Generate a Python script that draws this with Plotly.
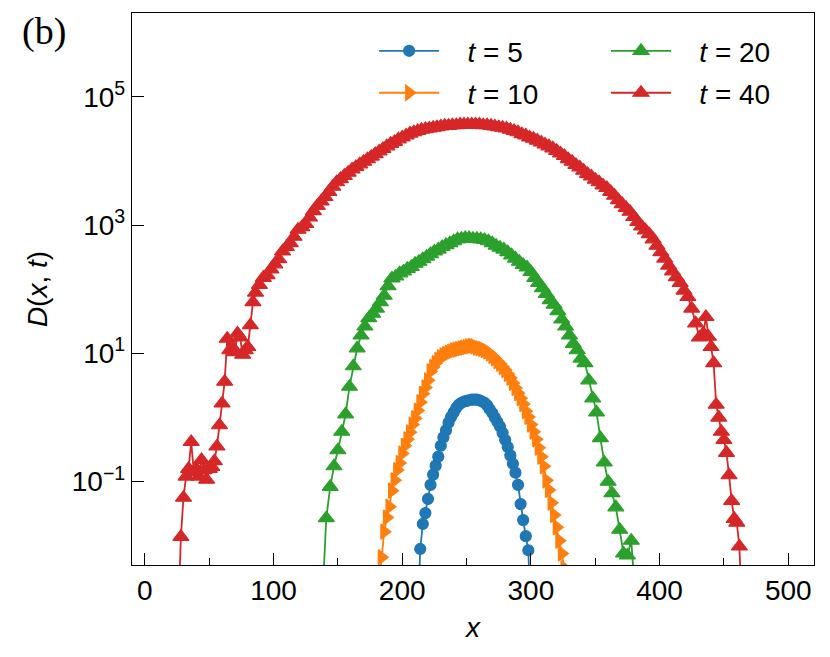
import numpy as np
import plotly.graph_objects as go

# D(x, t) profiles, stored as log10 values
x_t5 = list(range(212, 301, 2))
logd_t5 = [-3.2, -2.05, -1.66, -1.49, -1.27, -1.05, -0.89, -0.75, -0.61, -0.44,
           -0.31, -0.20, -0.08, 0.01, 0.08, 0.15, 0.20, 0.23, 0.25, 0.26,
           0.27, 0.28, 0.28, 0.28, 0.27, 0.25, 0.23, 0.19, 0.13, 0.07,
           0.00, -0.07, -0.14, -0.24, -0.35, -0.46, -0.59, -0.72, -0.86, -1.05,
           -1.35, -1.60, -1.85, -2.07, -3.2]

x_t10 = list(range(182, 327, 2))
logd_t10 = [-2.6, -2.18, -1.78, -1.56, -1.39, -1.14, -0.98, -0.82, -0.71, -0.56,
            -0.44, -0.34, -0.23, -0.11, -0.01, 0.11, 0.24, 0.37, 0.47, 0.58,
            0.72, 0.79, 0.85, 0.90, 0.94, 0.97, 0.99, 1.01, 1.03, 1.05,
            1.06, 1.07, 1.08, 1.09, 1.10, 1.11, 1.12, 1.11, 1.09, 1.08,
            1.07, 1.05, 1.03, 1.00, 0.96, 0.92, 0.88, 0.84, 0.79, 0.74,
            0.68, 0.62, 0.54, 0.46, 0.38, 0.30, 0.21, 0.10, 0.01, -0.11,
            -0.22, -0.34, -0.47, -0.61, -0.76, -0.98, -1.13, -1.33, -1.52, -1.71,
            -1.92, -2.12, -2.35]

x_t20 = list(range(138, 382, 3))
logd_t20 = [-2.8, -1.57, -1.08, -0.76, -0.51, -0.22, 0.05, 0.48, 0.80, 1.08,
            1.28, 1.42, 1.55, 1.62, 1.70, 1.80, 1.90, 2.05, 2.17, 2.20,
            2.25, 2.28, 2.32, 2.35, 2.40, 2.43, 2.47, 2.51, 2.55, 2.59,
            2.62, 2.66, 2.69, 2.72, 2.75, 2.78, 2.79, 2.80, 2.80, 2.79,
            2.79, 2.78, 2.77, 2.75, 2.72, 2.68, 2.65, 2.62, 2.58, 2.53,
            2.48, 2.43, 2.38, 2.34, 2.27, 2.18, 2.10, 2.02, 1.93, 1.83,
            1.76, 1.66, 1.53, 1.42, 1.28, 1.15, 1.05, 0.92, 0.85, 0.58,
            0.30, 0.08, -0.32, -0.70, -1.00, -1.18, -1.40, -1.75, -2.12, -2.15,
            -1.92, -2.8]

x_t40 = list(range(26, 87, 2)) + list(range(89, 435, 3)) + list(range(436, 465, 2))
logd_t40 = [
    # left tail
    -3.0, -1.86, -1.25, -0.92, -0.80, -0.38, -0.85, -0.80, -0.92, -0.66,
    -0.82, -0.97, -0.80, -0.77, -0.68, -0.45, -0.12, 0.22, 0.56, 1.23,
    1.05, 1.10, 1.02, 1.31, 1.25, 0.98, 1.05, 1.10, 1.44, 1.80, 1.95,
    # bulk
    2.07, 2.18, 2.22, 2.31, 2.39, 2.47, 2.59, 2.66, 2.72, 2.82,
    2.93, 2.97, 3.02, 3.12, 3.22, 3.30, 3.37, 3.44, 3.52, 3.60,
    3.67, 3.72, 3.77, 3.82, 3.87, 3.91, 3.95, 3.99, 4.03, 4.07,
    4.11, 4.15, 4.19, 4.23, 4.27, 4.30, 4.34, 4.37, 4.40, 4.43,
    4.45, 4.47, 4.49, 4.50, 4.51, 4.52, 4.53, 4.54, 4.55, 4.55,
    4.56, 4.56, 4.57, 4.57, 4.57, 4.57, 4.57, 4.57, 4.56, 4.56,
    4.55, 4.54, 4.53, 4.52, 4.51, 4.49, 4.47, 4.45, 4.42, 4.40,
    4.37, 4.35, 4.32, 4.29, 4.26, 4.23, 4.20, 4.16, 4.12, 4.08,
    4.03, 3.99, 3.94, 3.90, 3.85, 3.80, 3.76, 3.71, 3.67, 3.62,
    3.58, 3.52, 3.46, 3.39, 3.33, 3.27, 3.21, 3.13, 3.05, 2.98,
    2.92, 2.86, 2.78, 2.68, 2.58, 2.48, 2.37, 2.28, 2.19, 2.10,
    1.98, 1.88, 1.70, 1.47, 1.25, 1.31,
    # right tail
    1.57, 1.26, 1.10, 0.85, 0.20, 0.00, -0.22, -0.35, -0.55, -0.90,
    -1.30, -1.58, -1.64, -2.01, -3.0,
]

GAP = "\u00a0\u00a0\u00a0"  # wider gap between legend symbol and label
series = [
    (GAP + "<i>t</i> = 5", x_t5, logd_t5, "#1f77b4", "circle", 11, 1.2, "legend"),
    (GAP + "<i>t</i> = 10", x_t10, logd_t10, "#ff7f0e", "triangle-right", 13, 1.4, "legend2"),
    (GAP + "<i>t</i> = 20", x_t20, logd_t20, "#2ca02c", "triangle-up", 14, 1.2, "legend3"),
    (GAP + "<i>t</i> = 40", x_t40, logd_t40, "#d62728", "triangle-up", 14, 1.2, "legend4"),
]

fig = go.Figure()
for name, xs, logs, colour, symbol, size, edge, leg in series:
    fig.add_trace(go.Scatter(
        x=xs,
        y=10.0 ** np.asarray(logs),
        mode="lines+markers",
        name=name,
        line=dict(color=colour, width=1.8),
        marker=dict(color=colour, symbol=symbol, size=size,
                    line=dict(width=edge, color=colour)),
        legend=leg,
        showlegend=True,
    ))

legend_style = dict(
    bgcolor="rgba(0,0,0,0)",
    font=dict(family="Liberation Sans", size=28, color="black"),
    xanchor="left",
    yanchor="middle",
    itemwidth=60,
)
fig.update_layout(
    showlegend=True,
    legend=dict(x=0.355, y=0.931, **legend_style),
    legend2=dict(x=0.355, y=0.855, **legend_style),
    legend3=dict(x=0.695, y=0.931, **legend_style),
    legend4=dict(x=0.695, y=0.855, **legend_style),
)

axis_common = dict(
    showline=True,
    linecolor="black",
    linewidth=1.3,
    mirror=True,
    ticks="inside",
    tickcolor="black",
    tickwidth=1.3,
    ticklen=12,
    showgrid=False,
    zeroline=False,
    tickfont=dict(family="Liberation Sans", size=28, color="black"),
)

fig.update_xaxes(
    range=[-10, 520],
    tickvals=[0, 100, 200, 300, 400, 500],
    minor=dict(dtick=50, ticks="inside", ticklen=7, tickcolor="black", tickwidth=1.3),
    title=dict(text="<i>x</i>", font=dict(family="Liberation Sans", size=28), standoff=12),
    **axis_common,
)
fig.update_yaxes(
    type="log",
    range=[-2.3, 6.31],
    tickvals=[0.1, 10, 1000, 100000],
    ticktext=["10<sup>−1</sup>", "10<sup>1</sup>", "10<sup>3</sup>", "10<sup>5</sup>"],
    title=dict(text="<i>D</i>(<i>x</i>, <i>t</i>)",
               font=dict(family="Liberation Sans", size=28), standoff=15),
    **axis_common,
)

fig.add_annotation(
    text="(b)", xref="paper", yref="paper", x=-0.164, y=0.9656,
    xanchor="left", yanchor="middle",
    showarrow=False, font=dict(family="Liberation Serif", size=38, color="black"),
)

# the page body adds an 8 px offset, so the margins are shifted to compensate
fig.update_layout(
    width=830,
    height=657,
    margin=dict(l=124, r=24, t=5, b=100),
    plot_bgcolor="white",
    paper_bgcolor="white",
    font=dict(family="Liberation Sans", size=28, color="black"),
)

fig.write_html("out.html")
